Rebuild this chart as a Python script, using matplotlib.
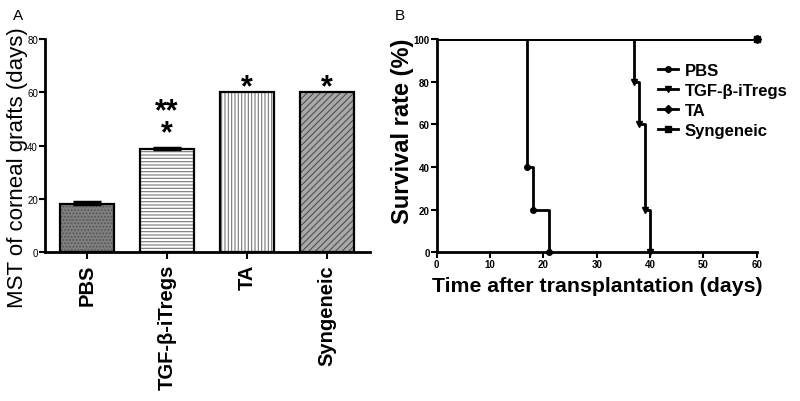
import matplotlib
matplotlib.use("Agg")
import matplotlib.pyplot as plt

plt.rcParams['font.family'] = ['Liberation Sans', 'DejaVu Sans']
plt.rcParams['hatch.linewidth'] = 0.8

# Panel A data
groups = ["PBS", "TGF-β-iTregs", "TA", "Syngeneic"]
mst = [18, 38.7, 60, 60]
mst_err = [0.7, 0.4, 0, 0]
star_labels = ["", "**\n*", "*", "*"]

# Panel B data (Kaplan-Meier steps)
pbs_t = [0, 17, 18, 21]
pbs_s = [100, 40, 20, 0]
tgf_t = [0, 37, 38, 39, 40]
tgf_s = [100, 80, 60, 20, 0]
ta_t = [0, 60]
ta_s = [100, 100]
syn_t = [0, 60]
syn_s = [100, 100]
legend_labels = ["PBS", "TGF-β-iTregs", "TA", "Syngeneic"]

W, H = 800, 402
fig = plt.figure(figsize=(8, 4.02), dpi=100)

# ---------- Panel A ----------
axA = fig.add_axes([0.05625, 0.370, 0.40625, 0.5305])
faces = ['#7e7e7e', 'white', 'white', '#a8a8a8']
hatches = ['.....', '-----', '|||||', '/////']
hcols = ['#555555', '#777777', '#777777', '#505050']
x = list(range(len(groups)))
for i in x:
    axA.bar(i, mst[i], width=0.68, color=faces[i], edgecolor=hcols[i],
            hatch=hatches[i], linewidth=0, zorder=2)
    axA.bar(i, mst[i], width=0.68, color='none', edgecolor='black',
            linewidth=1.6, zorder=3)
    if mst_err[i] > 0:
        axA.errorbar(i, mst[i], yerr=[[0], [mst_err[i]]], fmt='none',
                     ecolor='black', elinewidth=1.5, capsize=10, capthick=2.5, zorder=4)
for i, s in enumerate(star_labels):
    if not s:
        continue
    if "\n" in s:
        axA.text(i, mst[i] + 0.3, s, ha='center', va='bottom', fontsize=22,
                 fontweight='bold', linespacing=0.65, zorder=5)
    else:
        axA.text(i, mst[i] - 1.0, s, ha='center', va='baseline', fontsize=22,
                 fontweight='bold', zorder=5)
axA.set_xlim(-0.525, 3.54)
axA.set_ylim(0, 80)
axA.set_yticks([0, 20, 40, 60, 80])
axA.tick_params(axis='y', labelsize=7, width=1.5, length=4, direction='out', pad=1)
axA.tick_params(axis='x', width=1.5, length=5, direction='out')
axA.set_xticks(x)
axA.set_xticklabels(groups, rotation=90, fontsize=14.5, fontweight='bold')
for sp in ['top', 'right']:
    axA.spines[sp].set_visible(False)
for sp in ['left', 'bottom']:
    axA.spines[sp].set_linewidth(2)
fig.text(18 / W, 1 - 167.5 / H, "MST of corneal grafts (days)", rotation=90,
         ha='center', va='center', fontsize=16)

# ---------- Panel B ----------
axB = fig.add_axes([0.546, 0.370, 0.400, 0.5305])
series = [(pbs_t, pbs_s, 'o'), (tgf_t, tgf_s, 'v'), (ta_t, ta_s, 'D'), (syn_t, syn_s, 's')]
handles = []
for (t, s, m), lab in zip(series, legend_labels):
    axB.step(t, s, where='post', color='black', lw=2)
    axB.plot(t[1:], s[1:], linestyle='none', marker=m, color='black', ms=4,
             clip_on=False)
    h, = axB.plot([], [], color='black', lw=2, marker=m, ms=4, label=lab)
    handles.append(h)
axB.set_xlim(0, 60)
axB.set_ylim(0, 100)
axB.set_xticks([0, 10, 20, 30, 40, 50, 60])
axB.set_yticks([0, 20, 40, 60, 80, 100])
axB.tick_params(labelsize=7, width=1.5, length=4, direction='out', pad=1)
for lab in axB.get_xticklabels() + axB.get_yticklabels():
    lab.set_fontweight('bold')
axB.set_xlabel("Time after transplantation (days)", fontsize=15.3, fontweight='bold', labelpad=5)
for sp in ['top', 'right']:
    axB.spines[sp].set_visible(False)
for sp in ['left', 'bottom']:
    axB.spines[sp].set_linewidth(2)
fig.text(403 / W, 1 - 131 / H, "Survival rate (%)", rotation=90,
         ha='center', va='center', fontsize=17, fontweight='bold')
axB.legend(handles=handles, loc='upper left', bbox_to_anchor=(0.692, 0.887), frameon=False,
           prop={'size': 12, 'weight': 'bold'}, handlelength=1.2, handletextpad=0.4,
           labelspacing=0.3, borderaxespad=0, borderpad=0)

fig.text(18 / W, 1 - 16 / H, "A", fontsize=11, ha='center', va='center')
fig.text(400 / W, 1 - 16 / H, "B", fontsize=11, ha='center', va='center')

fig.savefig("out.png", dpi=100)
